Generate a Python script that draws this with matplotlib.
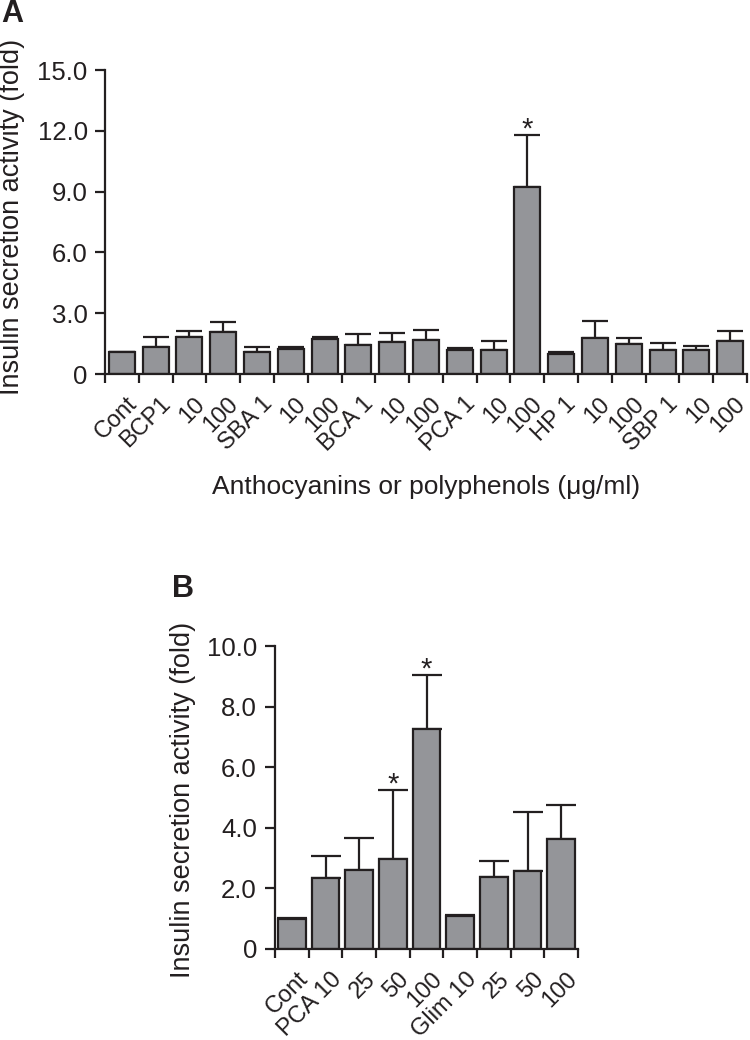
import matplotlib
matplotlib.use("Agg")
import matplotlib.pyplot as plt
import matplotlib.transforms as mtransforms
import numpy as np

plt.rcParams['font.family'] = ['Liberation Sans', 'DejaVu Sans']

# ---------------- data ----------------
labels_a = ["Cont", "BCP1", "10", "100", "SBA 1", "10", "100", "BCA 1", "10", "100",
            "PCA 1", "10", "100", "HP 1", "10", "100", "SBP 1", "10", "100"]
means_a = [1.07, 1.32, 1.84, 2.06, 1.09, 1.22, 1.71, 1.42, 1.56, 1.69,
           1.17, 1.20, 9.23, 1.00, 1.78, 1.50, 1.20, 1.20, 1.63]
upper_a = [1.07, 1.81, 2.12, 2.58, 1.33, 1.33, 1.81, 1.97, 2.04, 2.17,
           1.27, 1.61, 11.79, 1.10, 2.60, 1.76, 1.55, 1.40, 2.10]
sig_a = [12]
yticks_a = [0, 3, 6, 9, 12, 15]
yticklabels_a = ["0", "3.0", "6.0", "9.0", "12.0", "15.0"]

labels_b = ["Cont", "PCA 10", "25", "50", "100", "Glim 10", "25", "50", "100"]
means_b = [0.99, 2.33, 2.62, 2.97, 7.26, 1.08, 2.36, 2.59, 3.64]
upper_b = [1.03, 3.07, 3.65, 5.25, 9.04, 1.12, 2.92, 4.52, 4.74]
sig_b = [3, 4]
yticks_b = [0, 2, 4, 6, 8, 10]
yticklabels_b = ["0", "2.0", "4.0", "6.0", "8.0", "10.0"]

BAR = "#949599"
INK = "#231f20"
W, H = 750, 1040

fig = plt.figure(figsize=(W / 100, H / 100), dpi=100)


def px_axes(l, r, t, b):
    return fig.add_axes([l / W, 1 - b / H, (r - l) / W, (b - t) / H])


def draw_panel(ax, labels, means, upper, sig, yticks, yticklabels, width, capsize,
               xoff_px, yoff_px, ypad):
    n = len(labels)
    x = np.arange(n) + 0.5
    means = np.asarray(means)
    upper = np.asarray(upper)
    ax.bar(x, means, width=width, color=BAR, edgecolor=INK, linewidth=1.6, zorder=2)
    ax.errorbar(x, means, yerr=[np.zeros(n), upper - means], fmt="none",
                ecolor=INK, elinewidth=1.6, capsize=capsize, capthick=1.6, zorder=1)
    for i in sig:
        ax.annotate("*", (x[i], upper[i]), xytext=(0, -6), textcoords="offset points",
                    ha="center", va="bottom", fontsize=21, color=INK)
    ax.set_xlim(0, n)
    ax.set_ylim(yticks[0], yticks[-1])
    for s in ("top", "right"):
        ax.spines[s].set_visible(False)
    for s in ("left", "bottom"):
        ax.spines[s].set_linewidth(1.6)
        ax.spines[s].set_color(INK)
    ax.set_yticks(yticks)
    ax.set_yticklabels(yticklabels)
    ax.tick_params(axis="y", direction="out", length=7, width=1.6, color=INK,
                   labelsize=18.5, labelcolor=INK, pad=ypad)
    ax.set_xticks(np.arange(n + 1))
    ax.set_xticklabels([])
    ax.tick_params(axis="x", which="major", direction="out", length=6.5, width=1.6, color=INK)
    ax.set_xticks(x, minor=True)
    ax.set_xticklabels(labels, minor=True, rotation=45, ha="right", va="top",
                       rotation_mode="anchor", fontsize=17, color=INK)
    ax.tick_params(axis="x", which="minor", length=0, pad=0)
    off = mtransforms.ScaledTranslation(xoff_px / 100, -yoff_px / 100, fig.dpi_scale_trans)
    for t in ax.get_xticklabels(minor=True):
        t.set_transform(ax.get_xaxis_transform() + off)
        t.set_y(0)


# Panel A
axA = px_axes(105, 747, 70, 374)
draw_panel(axA, labels_a, means_a, upper_a, sig_a, yticks_a, yticklabels_a, 0.77, 9.5, 4, 19, 5.5)
axA.set_ylabel("Insulin secretion activity (fold)", fontsize=19.5, color=INK)
axA.yaxis.set_label_coords(-0.145, 0.516)
axA.yaxis.label.set_va("center")
axA.set_xlabel("Anthocyanins or polyphenols (\u03bcg/ml)", fontsize=19, color=INK)
axA.xaxis.set_label_coords(0.5, -0.372)
axA.xaxis.label.set_va("center")
fig.text(1 / W, 1 - 14 / H, "A", fontsize=22, fontweight="bold", color=INK, va="center", ha="left")

# Panel B
axB = px_axes(275, 578, 646, 949)
draw_panel(axB, labels_b, means_b, upper_b, sig_b, yticks_b, yticklabels_b, 0.83, 10.5, 5, 19, 6)
axB.set_ylabel("Insulin secretion activity (fold)", fontsize=19.5, color=INK)
axB.yaxis.set_label_coords(-0.304, 0.492)
axB.yaxis.label.set_va("center")
fig.text(172 / W, 1 - 589 / H, "B", fontsize=22, fontweight="bold", color=INK, va="center", ha="left")

fig.savefig("out.png", dpi=100)
